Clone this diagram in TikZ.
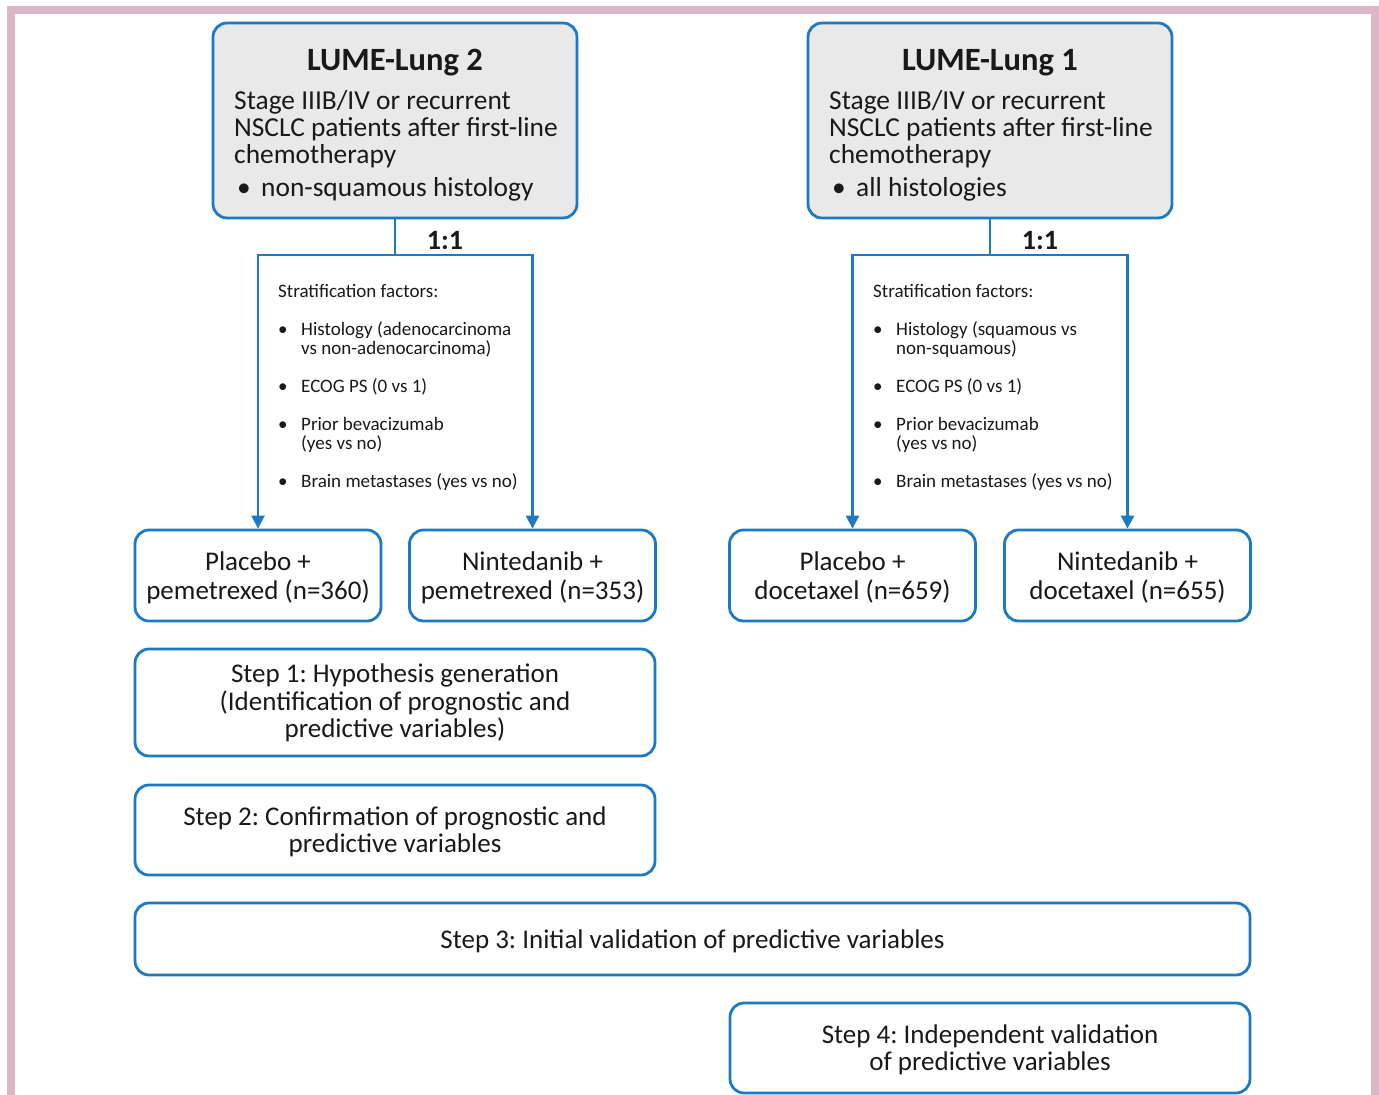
\documentclass[tikz,border=0pt]{standalone}
\usepackage{fontspec}
\setmainfont{Carlito}
\usetikzlibrary{arrows.meta}
\definecolor{bblue}{RGB}{28,122,196}
\definecolor{bgray}{RGB}{232,233,232}
\definecolor{pinkb}{RGB}{219,182,198}
\definecolor{txt}{RGB}{25,25,25}
\newcommand{\bitem}[2]{\makebox[23pt][l]{\textbullet}#1\ifx&#2&\else\\\hspace*{23pt}#2\fi}
\frenchspacing
\begin{document}
\begin{tikzpicture}[x=1pt,y=-1pt,
  every node/.style={text=txt, inner sep=0pt},
  boxs/.style={draw=bblue, line width=2.8pt, rounded corners=14pt, fill=white},
  topbox/.style={boxs, fill=bgray, minimum width=364pt, minimum height=195pt},
  armbox/.style={boxs, minimum width=246pt, minimum height=91pt},
  armtxt/.style={align=center, font=\fontsize{27}{29}\selectfont},
  steptxt/.style={align=center, font=\fontsize{27}{27.5}\selectfont},
  conn/.style={draw=bblue, line width=2.6pt},
  arr/.style={conn, -{Triangle[length=13pt,width=13pt]}},
  strat/.style={align=left, anchor=north west, font=\fontsize{19}{19.3}\selectfont},
  ratio/.style={font=\fontsize{28}{30}\selectfont\bfseries},
  ttl/.style={font=\fontsize{32.5}{36}\selectfont\bfseries},
  tbody/.style={anchor=north west, align=left, font=\fontsize{27.4}{27}\selectfont}
]
\useasboundingbox (0,0) rectangle (1379,1095);
\fill[white] (0,0) rectangle (1379,1095);
% pink frame
\fill[pinkb] (7,6) rectangle (1379,14);
\fill[pinkb] (7,6) rectangle (15,1095);
\fill[pinkb] (1371,6) rectangle (1379,1095);

% ---------- left trial ----------
\node[topbox] (L2) at (395,120.5) {};
\node[ttl] (L2t) at (395,63) {LUME-Lung 2};
\node[tbody] (L2b) at (234,90)
  {Stage IIIB/IV or recurrent\\NSCLC patients after first-line\\chemotherapy\\[6pt]\makebox[27pt][l]{\hspace{3pt}\textbullet}non-squamous histology};

\node[armbox] (Lp) at (258,575.5) {};
\node[armtxt] (Lpt) at (258,577.5) {Placebo +\\pemetrexed (n=360)};
\node[armbox] (Ln) at (532.5,575.5) {};
\node[armtxt] (Lnt) at (532.5,577.5) {Nintedanib +\\pemetrexed (n=353)};

\coordinate (Lj) at (395,255);
\draw[conn] (L2.south) -- (Lj);
\draw[arr] (Lj) -| (Lp.north);
\draw[arr] (Lj) -| (Ln.north);
\node[ratio] (Lr) at (445,241) {1:1};

\node[strat] (Ls) at (278,284) {Stratification factors:\\[18.5pt]
  \bitem{Histology (adenocarcinoma}{vs non-adenocarcinoma)}\\[18.5pt]
  \bitem{ECOG PS (0 vs 1)}{}\\[18.5pt]
  \bitem{Prior bevacizumab}{(yes vs no)}\\[18.5pt]
  \bitem{Brain metastases (yes vs no)}{}};

% ---------- right trial ----------
\node[topbox] (L1) at (990,120.5) {};
\node[ttl] (L1t) at (990,63) {LUME-Lung 1};
\node[tbody] (L1b) at (829,90)
  {Stage IIIB/IV or recurrent\\NSCLC patients after first-line\\chemotherapy\\[6pt]\makebox[27pt][l]{\hspace{3pt}\textbullet}all histologies};

\node[armbox] (Rp) at (852.5,575.5) {};
\node[armtxt] (Rpt) at (852.5,577.5) {Placebo +\\docetaxel (n=659)};
\node[armbox] (Rn) at (1127.5,575.5) {};
\node[armtxt] (Rnt) at (1127.5,577.5) {Nintedanib +\\docetaxel (n=655)};

\coordinate (Rj) at (990,255);
\draw[conn] (L1.south) -- (Rj);
\draw[arr] (Rj) -| (Rp.north);
\draw[arr] (Rj) -| (Rn.north);
\node[ratio] (Rr) at (1040,241) {1:1};

\node[strat] (Rs) at (873,284) {Stratification factors:\\[18.5pt]
  \bitem{Histology (squamous vs}{non-squamous)}\\[18.5pt]
  \bitem{ECOG PS (0 vs 1)}{}\\[18.5pt]
  \bitem{Prior bevacizumab}{(yes vs no)}\\[18.5pt]
  \bitem{Brain metastases (yes vs no)}{}};

% ---------- steps ----------
\node[boxs, minimum width=520pt, minimum height=107pt] (S1) at (395,702.5) {};
\node[steptxt] (S1t) at (395,703)
  {Step 1: Hypothesis generation\\(Identification of prognostic and\\predictive variables)};
\node[boxs, minimum width=520pt, minimum height=90pt] (S2) at (395,830) {};
\node[steptxt] (S2t) at (395,832)
  {Step 2: Confirmation of prognostic and\\predictive variables};
\node[boxs, minimum width=1115pt, minimum height=72pt] (S3) at (692.5,939) {};
\node[steptxt] (S3t) at (692.5,941)
  {Step 3: Initial validation of predictive variables};
\node[boxs, minimum width=520pt, minimum height=90pt] (S4) at (990,1048) {};
\node[steptxt] (S4t) at (990,1050)
  {Step 4: Independent validation\\of predictive variables};
\end{tikzpicture}
\end{document}
